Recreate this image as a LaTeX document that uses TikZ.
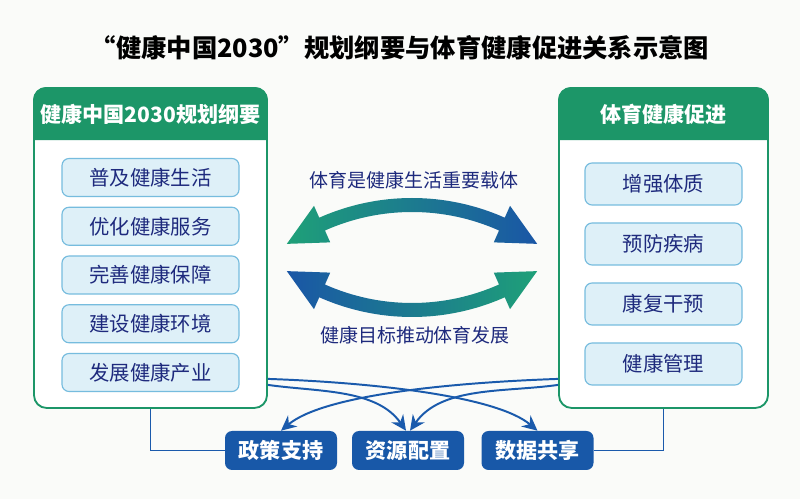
\documentclass[tikz,border=0pt]{standalone}
\usepackage{fontspec}
\setmainfont{Noto Sans CJK SC}
\usetikzlibrary{arrows.meta,positioning,calc}
\definecolor{hdgreen}{RGB}{28,150,104}
\definecolor{itemfill}{RGB}{222,240,248}
\definecolor{itemline}{RGB}{118,188,222}
\definecolor{navy}{RGB}{30,42,125}
\definecolor{linkblue}{RGB}{26,90,172}
\definecolor{tagblue}{RGB}{24,88,168}
\definecolor{arrgreen}{RGB}{30,160,120}
\definecolor{arrcyan}{RGB}{48,172,216}
\definecolor{arrblue}{RGB}{26,86,166}
\definecolor{bgpaper}{RGB}{250,251,249}
\tikzset{
  panel/.style={draw=hdgreen, line width=1.3pt, rounded corners=9pt, fill=white,
    minimum height=8cm, inner sep=0pt},
  headtxt/.style={text=white, font=\fontsize{15}{18}\selectfont\bfseries},
  itembox/.style={draw=itemline, line width=0.8pt, rounded corners=5pt, fill=itemfill,
    text=navy, font=\fontsize{14.5}{17}\selectfont, inner sep=0pt},
  tagbox/.style={fill=tagblue, rounded corners=5pt, text=white,
    font=\fontsize{15}{18}\selectfont\bfseries, minimum width=2.8cm,
    minimum height=0.975cm, inner sep=0pt},
  link/.style={-{Stealth[length=3.8mm,width=3.6mm]}, line width=1.4pt, linkblue},
  bracketln/.style={line width=1.1pt, linkblue},
  midtxt/.style={text=navy, font=\fontsize{13.5}{16}\selectfont},
}
% #1 centre of the bend, #2 = 1 (upper) or -1 (lower), #3 left colour, #4 right colour
\newcommand{\swoosh}[4]{%
  \shade[left color=#3, middle color=arrcyan, right color=#4]
    ($#1+({#2*124.5}:5.525)$) -- ($#1+({#2*114}:6.025)$) -- ($#1+({#2*114}:5.7)$)
    arc[start angle={#2*114}, end angle={#2*66}, radius=5.7]
    -- ($#1+({#2*66}:6.025)$) -- ($#1+({#2*55.5}:5.525)$) -- ($#1+({#2*66}:5.025)$)
    -- ($#1+({#2*66}:5.35)$)
    arc[start angle={#2*66}, end angle={#2*114}, radius=5.35]
    -- ($#1+({#2*114}:5.025)$) -- cycle;
}

\begin{document}
\begin{tikzpicture}
    \fill[bgpaper] (0,0) rectangle (20,12.475);
    \node[font=\fontsize{18}{22}\selectfont\bfseries] (title) at (10,11.275)
      {“健康中国2030”规划纲要与体育健康促进关系示意图};
    % left panel
    \node[panel, minimum width=5.825cm] (lbox) at (3.7625,6.275) {};
    \fill[hdgreen] ([yshift=-1.325cm]lbox.north west) [rounded corners=9pt]
      -- (lbox.north west) -- (lbox.north east) [sharp corners]
      -- ([yshift=-1.325cm]lbox.north east) -- cycle;
    \node[headtxt] (lhead) at (3.7625,9.6125) {健康中国2030规划纲要};
    \foreach \t [count=\i] in {普及健康生活, 优化健康服务, 完善健康保障, 建设健康环境, 发展健康产业}{
      \node[itembox, minimum width=4.425cm, minimum height=0.95cm]
        (l\i) at (3.7625, {8.0375-(\i-1)*1.21875}) {\t};
    }
    % right panel
    \node[panel, minimum width=5.225cm] (rbox) at (16.5875,6.275) {};
    \fill[hdgreen] ([yshift=-1.325cm]rbox.north west) [rounded corners=9pt]
      -- (rbox.north west) -- (rbox.north east) [sharp corners]
      -- ([yshift=-1.325cm]rbox.north east) -- cycle;
    \node[headtxt] (rhead) at (16.5875,9.6125) {体育健康促进};
    \foreach \t [count=\i] in {增强体质, 预防疾病, 康复干预, 健康管理}{
      \node[itembox, minimum width=3.925cm, minimum height=1.05cm]
        (r\i) at (16.5875, {7.875-(\i-1)*1.5}) {\t};
    }
    % two-way arrows
    \swoosh{(10.3,1.825)}{1}{arrgreen}{arrblue}
    \swoosh{(10.3,10.25)}{-1}{arrblue}{arrgreen}
    \node[midtxt] (uplab) at (10.35,7.975) {体育是健康生活重要载体};
    \node[midtxt] (lowlab) at (10.375,4.1) {健康目标推动体育发展};
    % shared supports
    \node[tagbox] (t1) at (7.025,1.2125) {政策支持};
    \node[tagbox] (t2) at (10.2,1.2125) {资源配置};
    \node[tagbox] (t3) at (13.4375,1.2125) {数据共享};
    \draw[link] ([yshift=0.75cm]lbox.south east)
      to[out=-2, in=140, out looseness=1, in looseness=0.5] (t3.north);
    \draw[link] ([yshift=0.6cm]lbox.south east)
      to[out=-8, in=125, looseness=0.9] ([xshift=-0.05cm]t2.north);
    \draw[link] ([yshift=0.75cm]rbox.south west)
      to[out=182, in=40, out looseness=1, in looseness=0.5] (t1.north);
    \draw[link] ([yshift=0.6cm]rbox.south west)
      to[out=188, in=55, looseness=0.9] ([xshift=0.05cm]t2.north);
    \draw[bracketln] (lbox.south) |- (t1.west);
    \draw[bracketln] (rbox.south) |- (t3.east);
\end{tikzpicture}
\end{document}
